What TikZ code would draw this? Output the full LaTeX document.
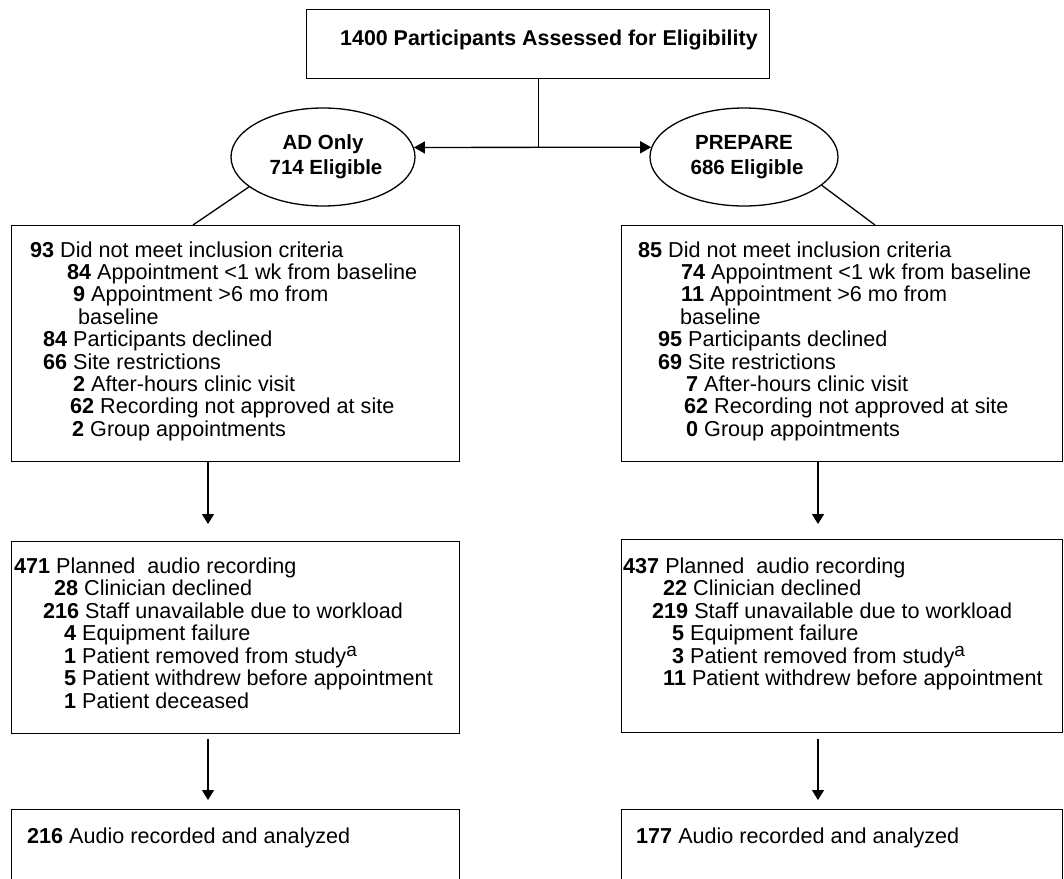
\documentclass[tikz,border=0pt]{standalone}
\usepackage{fontspec}
\setmainfont{Liberation Sans}
\usetikzlibrary{arrows.meta,shapes.geometric}
\newcommand\myline[5]{\node[ln] (#1) at (#2,#3) {\textbf{#4} #5};}
\newcommand\supa{\raisebox{7pt}{\fontsize{19}{19}\selectfont a}}
\begin{document}
\begin{tikzpicture}[x=1pt,y=-1pt,
  box/.style={draw, line width=1.3pt, rectangle, inner sep=0pt, anchor=north west},
  oval/.style={draw, line width=1.3pt, ellipse, inner sep=0pt, align=center,
    font=\fontsize{20.5}{25}\selectfont\bfseries},
  ln/.style={anchor=base west, inner sep=0pt, font=\fontsize{21.6}{22.4}\selectfont},
  conn/.style={line width=1.3pt},
  arr/.style={line width=1.3pt, -{Triangle[length=10pt,width=12pt]}},
  darr/.style={line width=1.3pt, {Triangle[length=11pt,width=12pt]}-{Triangle[length=11pt,width=12pt]}}]
\clip (0,0) rectangle (1064,878);
\fill[white] (0,0) rectangle (1064,878);

% top box
\node[box, minimum width=463pt, minimum height=69pt] (top) at (306,9) {};
\node[ln, font=\fontsize{21.4}{25}\selectfont\bfseries] (toptext) at (340,45) {1400 Participants Assessed for Eligibility};

% ellipses
\node[oval, minimum width=184pt, minimum height=98pt] (adonly) at (323,157) {AD Only\\\hspace*{6pt}714 Eligible};
\node[oval, minimum width=188pt, minimum height=98pt] (prepare) at (744,157) {PREPARE\\\hspace*{6pt}686 Eligible};

% split
\draw[darr] (adonly.6) -- (prepare.174);
\coordinate (split) at (top.south |- adonly.6);
\draw[conn] (top.south) -- (split);

% boxes
\node[box, minimum width=448pt, minimum height=236pt] (lbox1) at (11,225) {};
\node[box, minimum width=441pt, minimum height=236pt] (rbox1) at (621,225) {};
\node[box, minimum width=448pt, minimum height=192pt] (lbox2) at (11,541) {};
\node[box, minimum width=441pt, minimum height=193pt] (rbox2) at (621,539) {};
\node[box, minimum width=448pt, minimum height=100pt] (lbox3) at (11,809) {};
\node[box, minimum width=441pt, minimum height=100pt] (rbox3) at (621,809) {};

% diagonal connectors
\draw[conn] (adonly.202) -- ([xshift=182pt]lbox1.north west);
\draw[conn] (prepare.340) -- ([xshift=254pt]rbox1.north west);

% vertical arrows
\draw[arr, shorten >=17pt] ([xshift=197pt]lbox1.south west) -- ([xshift=197pt]lbox2.north west);
\draw[arr, shorten >=15pt] ([xshift=197pt]rbox1.south west) -- ([xshift=197pt]rbox2.north west);
\draw[arr, shorten <=5pt, shorten >=9pt] ([xshift=197pt]lbox2.south west) -- ([xshift=197pt]lbox3.north west);
\draw[arr, shorten <=6pt, shorten >=9pt] ([xshift=197pt]rbox2.south west) -- ([xshift=197pt]rbox3.north west);

% left box 1
\myline{la0}{30}{257}{93}{Did not meet inclusion criteria}
\myline{la1}{67}{279.4}{84}{Appointment <1 wk from baseline}
\myline{la2}{73}{301.8}{9}{Appointment >6 mo from}
\node[ln] (la3) at (78,324.2) {baseline};
\myline{la4}{43}{346.6}{84}{Participants declined}
\myline{la5}{43}{369}{66}{Site restrictions}
\myline{la6}{73}{391.4}{2}{After-hours clinic visit}
\myline{la7}{70}{413.8}{62}{Recording not approved at site}
\myline{la8}{72}{436.2}{2}{Group appointments}

% right box 1
\myline{ra0}{638}{257}{85}{Did not meet inclusion criteria}
\myline{ra1}{681}{279.4}{74}{Appointment <1 wk from baseline}
\myline{ra2}{681}{301.8}{11}{Appointment >6 mo from}
\node[ln] (ra3) at (680,324.2) {baseline};
\myline{ra4}{658}{346.6}{95}{Participants declined}
\myline{ra5}{658}{369}{69}{Site restrictions}
\myline{ra6}{686}{391.4}{7}{After-hours clinic visit}
\myline{ra7}{684}{413.8}{62}{Recording not approved at site}
\myline{ra8}{686}{436.2}{0}{Group appointments}

% left box 2
\myline{lb0}{14}{573}{471}{Planned\ \ audio recording}
\myline{lb1}{54}{595.5}{28}{Clinician declined}
\myline{lb2}{43}{618}{216}{Staff unavailable due to workload}
\myline{lb3}{64}{640.5}{4}{Equipment failure}
\myline{lb4}{64}{663}{1}{Patient removed from study\supa}
\myline{lb5}{64}{685.5}{5}{Patient withdrew before appointment}
\myline{lb6}{64}{708}{1}{Patient deceased}

% right box 2
\myline{rb0}{623}{573}{437}{Planned\ \ audio recording}
\myline{rb1}{663}{595.5}{22}{Clinician declined}
\myline{rb2}{652}{618}{219}{Staff unavailable due to workload}
\myline{rb3}{672}{640.5}{5}{Equipment failure}
\myline{rb4}{672}{663}{3}{Patient removed from study\supa}
\myline{rb5}{663}{685.5}{11}{Patient withdrew before appointment}

% box 3
\myline{lc0}{27}{843}{216}{Audio recorded and analyzed}
\myline{rc0}{636}{843}{177}{Audio recorded and analyzed}
\end{tikzpicture}
\end{document}
